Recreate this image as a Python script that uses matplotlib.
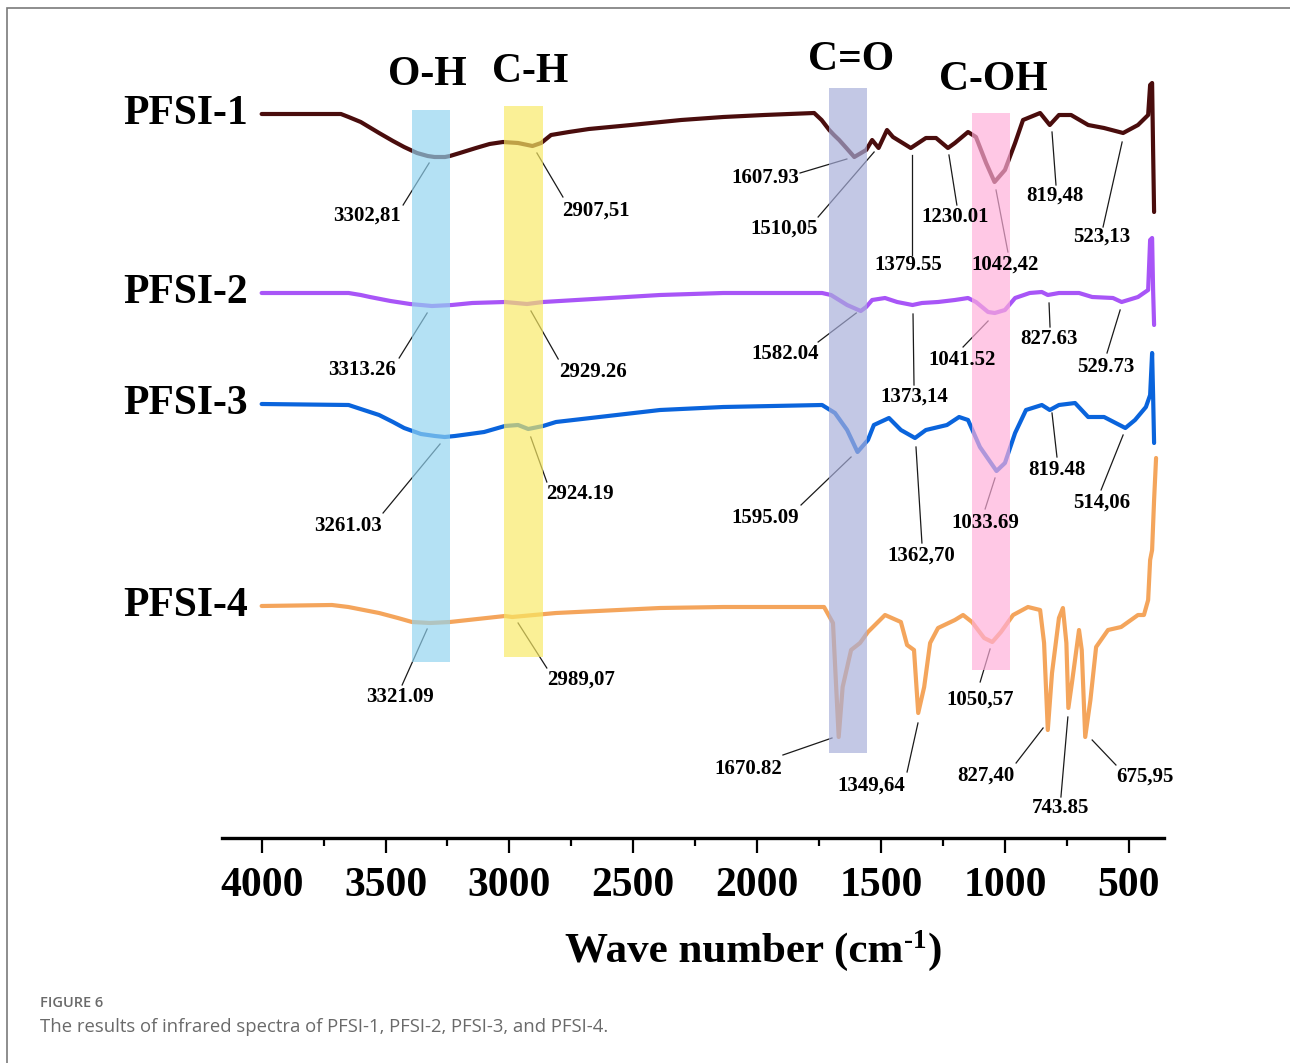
import numpy as np
import matplotlib
matplotlib.use('Agg')
import matplotlib.pyplot as plt
from matplotlib.patches import Rectangle
from matplotlib.ticker import FixedLocator

# ---------------- data ----------------
samples = ['PFSI-1', 'PFSI-2', 'PFSI-3', 'PFSI-4']

wn1 = [4000, 3680, 3649, 3600, 3526, 3470, 3425, 3373, 3330, 3302,
       3260, 3240, 3200, 3135, 3080, 3026, 2965, 2907, 2872, 2832,
       2760, 2679, 2509, 2307, 2137, 1972, 1770, 1740, 1709, 1690,
       1669, 1640, 1608, 1560, 1536, 1510, 1476, 1452, 1380, 1319,
       1278, 1230, 1202, 1149, 1117, 1076, 1042, 1000, 959, 927,
       858, 819, 782, 733, 664, 600, 523, 463, 422, 414,
       406, 402, 398]
t1 = [724, 724, 721, 716, 705, 697, 691, 685, 682, 681,
      681, 682, 685, 690, 694, 696, 695, 692, 695, 703,
      706, 709, 713, 718, 721, 723, 725, 718, 708, 703,
      698, 690, 681, 688, 698, 690, 708, 701, 690, 700,
      700, 690, 695, 706, 701, 675, 656, 668, 695, 718,
      725, 713, 723, 723, 713, 710, 705, 713, 723, 753,
      755, 688, 626]

wn2 = [4000, 3649, 3600, 3563, 3480, 3401, 3313, 3232, 3150, 3018,
       2929, 2864, 2392, 2137, 1738, 1702, 1637, 1582, 1560, 1536,
       1484, 1435, 1373, 1335, 1270, 1202, 1149, 1117, 1068, 1041,
       1000, 959, 900, 851, 827, 782, 701, 648, 564, 529,
       463, 422, 414, 406, 402, 398]
t2 = [545, 545, 543, 541, 537, 534, 532, 533, 535, 536,
      534, 536, 543, 545, 545, 543, 533, 527, 531, 538,
      540, 536, 533, 535, 536, 538, 540, 536, 526, 525,
      528, 540, 545, 546, 543, 545, 545, 541, 540, 536,
      541, 548, 598, 600, 548, 513]

wn3 = [4000, 3649, 3600, 3526, 3470, 3425, 3357, 3300, 3261, 3220,
       3160, 3102, 3060, 3018, 2965, 2924, 2864, 2812, 2392, 2137,
       1738, 1686, 1637, 1595, 1553, 1529, 1468, 1420, 1363, 1319,
       1234, 1185, 1149, 1101, 1034, 1000, 959, 915, 851, 819,
       782, 717, 664, 600, 514, 475, 431, 414, 406, 402,
       398]
t3 = [434, 433, 429, 423, 416, 410, 404, 402, 401, 402,
      404, 406, 409, 412, 413, 409, 412, 416, 428, 431,
      433, 425, 408, 386, 398, 413, 420, 408, 400, 408,
      413, 421, 418, 391, 367, 375, 405, 428, 433, 428,
      433, 435, 421, 421, 410, 418, 431, 443, 485, 443,
      395]

wn4 = [4000, 3716, 3650, 3526, 3450, 3393, 3321, 3240, 3018, 2989,
       2812, 2392, 2137, 1730, 1694, 1685, 1671, 1655, 1621, 1585,
       1553, 1484, 1420, 1395, 1367, 1350, 1326, 1302, 1270, 1202,
       1169, 1133, 1084, 1051, 1016, 967, 907, 858, 842, 827,
       810, 782, 766, 752, 744, 728, 701, 690, 676, 655,
       632, 584, 531, 463, 439, 422, 414, 406, 398, 390]
t4 = [232, 233, 231, 225, 220, 216, 215, 216, 222, 221,
      225, 230, 231, 231, 215, 170, 101, 151, 188, 195,
      206, 223, 216, 193, 188, 125, 151, 195, 210, 218,
      223, 216, 200, 196, 206, 223, 231, 228, 195, 108,
      165, 220, 230, 195, 130, 158, 208, 188, 101, 138,
      191, 208, 211, 223, 223, 238, 278, 288, 338, 380]

line_colors = ['#4a0d0d', '#a855f7', '#0a64dc', '#f4a55c']

band_names = ['O-H', 'C-H', 'C=O', 'C-OH']
band_lo = [3240, 2864, 1557, 980]
band_hi = [3393, 3022, 1710, 1133]
band_bottom = [176, 181, 85, 168]
band_top = [728, 732, 750, 725]
band_colors = ['#91d3f0', '#f8e964', '#a7aeda', '#ffaeda']

peak_labels = [
    ['3302,81', '2907,51', '1607.93', '1510,05', '1379.55', '1230.01', '1042,42', '819,48', '523,13'],
    ['3313.26', '2929.26', '1582.04', '1373,14', '1041.52', '827.63', '529.73'],
    ['3261.03', '2924.19', '1595.09', '1362,70', '1033.69', '819.48', '514,06'],
    ['3321.09', '2989,07', '1670.82', '1349,64', '1050,57', '827,40', '743.85', '675,95'],
]

# ---------------- layout (annotation placement) ----------------
# (text x, text y, leader start x, y, leader end x, y) in data units
ann_layout = [
    [(3575, 622, 3429, 633, 3324, 675), (2650, 627, 2784, 641, 2889, 685),
     (1968, 660, 1827, 665, 1638, 679), (1892, 609, 1754, 621, 1528, 686),
     (1391, 573, 1375, 583, 1375, 683), (1202, 621, 1194, 633, 1226, 683),
     (1000, 573, 988, 586, 1036, 648), (798, 642, 794, 653, 810, 706),
     (608, 601, 604, 611, 527, 696)],
    [(3595, 468, 3445, 480, 3332, 525), (2662, 466, 2803, 479, 2913, 527),
     (1888, 484, 1754, 496, 1600, 525), (1367, 441, 1367, 453, 1371, 524),
     (1173, 478, 1169, 491, 1068, 517), (822, 499, 818, 511, 822, 535),
     (592, 471, 588, 485, 535, 528)],
    [(3651, 312, 3510, 325, 3280, 394), (2715, 344, 2849, 356, 2914, 401),
     (1968, 320, 1823, 333, 1621, 381), (1339, 282, 1335, 295, 1359, 391),
     (1080, 315, 1080, 329, 1040, 360), (790, 368, 790, 381, 810, 425),
     (608, 335, 612, 348, 523, 403)],
    [(3441, 141, 3433, 153, 3332, 209), (2711, 158, 2849, 170, 2965, 215),
     (2037, 69, 1896, 83, 1698, 100), (1540, 52, 1395, 66, 1351, 115),
     (1100, 138, 1100, 156, 1060, 189), (1076, 62, 955, 75, 846, 110),
     (774, 30, 774, 41, 746, 121), (435, 61, 552, 73, 648, 98)],
]
band_label_pos = [(3333, 763), (2916, 766), (1621, 778), (1048, 758)]

# ---------------- style ----------------
plt.rcParams['font.family'] = ['Liberation Serif', 'DejaVu Serif']
plt.rcParams['font.weight'] = 'bold'

W, H = 1290, 1063
fig = plt.figure(figsize=(W / 100, H / 100), dpi=100)
ax = fig.add_axes([222 / W, 1 - 838 / H, (1164 - 222) / W, (838 - 40) / H])

ax.set_xlim(4160, 358)
ax.set_ylim(0, 798)

series = [(wn1, t1), (wn2, t2), (wn3, t3), (wn4, t4)]
for (wn, t), c, name in zip(series, line_colors, samples):
    ax.plot(wn, t, color=c, lw=3.0, solid_joinstyle='round', solid_capstyle='round', zorder=2)
    ax.text(4055, t[0], name, ha='right', va='center', fontsize=30,
            fontweight='bold', zorder=6)

for lo, hi, b, tp, c in zip(band_lo, band_hi, band_bottom, band_top, band_colors):
    ax.add_patch(Rectangle((lo, b), hi - lo, tp - b, facecolor=c, edgecolor='none',
                           alpha=0.68, zorder=4))

for name, (x, y) in zip(band_names, band_label_pos):
    ax.text(x, y, name, ha='center', va='center', fontsize=30, fontweight='bold',
            zorder=6, clip_on=False)

for labels, layout in zip(peak_labels, ann_layout):
    for lab, (tx, ty, x0, y0, x1, y1) in zip(labels, layout):
        ax.plot([x0, x1], [y0, y1], color='#1a1a1a', lw=0.9, zorder=1.5)
        ax.text(tx, ty, lab, ha='center', va='center', fontsize=15,
                fontweight='bold', zorder=6)

for s in ['top', 'right', 'left']:
    ax.spines[s].set_visible(False)
ax.spines['bottom'].set_linewidth(2.4)
ax.set_yticks([])
ax.xaxis.set_major_locator(FixedLocator([4000, 3500, 3000, 2500, 2000, 1500, 1000, 500]))
ax.xaxis.set_minor_locator(FixedLocator([3750, 3250, 2750, 2250, 1750, 1250, 750]))
ax.tick_params(axis='x', which='major', direction='out', length=11, width=1.6,
               labelsize=30, pad=10)
ax.tick_params(axis='x', which='minor', direction='out', length=5.5, width=1.6)
for lab in ax.get_xticklabels():
    lab.set_fontweight('bold')

# x-axis title with a hyphen superscript, built from three pieces
renderer = fig.canvas.get_renderer()
t_main = fig.text(565 / W, 1 - 952 / H, 'Wave number (cm', ha='left', va='center',
                  fontsize=31, fontweight='bold')
bb = t_main.get_window_extent(renderer)
t_sup = fig.text(bb.x1 / W + 1 / W, 1 - 941 / H, '-1', ha='left', va='center',
                 fontsize=19.5, fontweight='bold')
bb2 = t_sup.get_window_extent(renderer)
fig.text(bb2.x1 / W + 1 / W, 1 - 952 / H, ')', ha='left', va='center',
         fontsize=31, fontweight='bold')

# caption and frame
fig.text(40 / W, 1 - 1003 / H, 'FIGURE 6', ha='left', va='center', fontsize=10.5,
         color='#6a6a6a', family=['Open Sans', 'DejaVu Sans'], fontweight='semibold')
fig.text(40 / W, 1 - 1027 / H,
         'The results of infrared spectra of PFSI-1, PFSI-2, PFSI-3, and PFSI-4.',
         ha='left', va='center', fontsize=13.3, color='#6a6a6a',
         family=['Open Sans', 'DejaVu Sans'], fontweight='normal')
fig.patches.append(Rectangle((7 / W, -0.2), 2.0, 1 - 8 / H + 0.2, transform=fig.transFigure,
                             fill=False, edgecolor='#7a7a7a', lw=1.2))

fig.savefig('out.png', dpi=100)
